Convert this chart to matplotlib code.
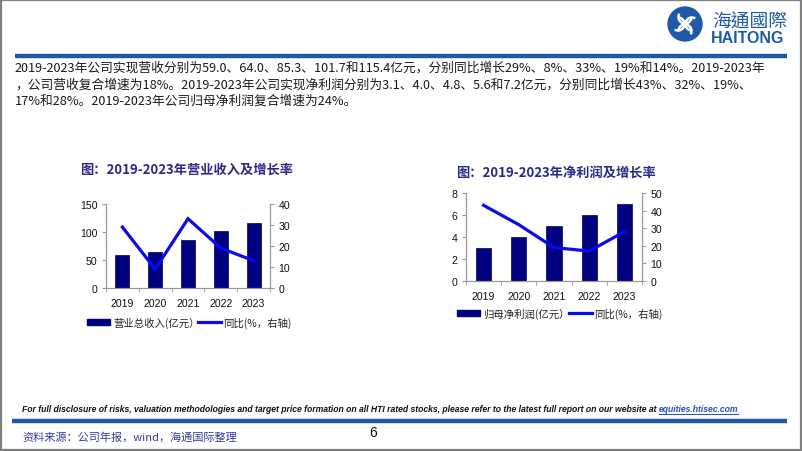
import matplotlib
matplotlib.use("Agg")
import matplotlib.pyplot as plt
from matplotlib.patches import Rectangle, Circle, Arc
from matplotlib.lines import Line2D
import numpy as np

plt.rcParams['font.family'] = ['Noto Sans CJK SC', 'DejaVu Sans']

# ---------------- data ----------------
years = ['2019', '2020', '2021', '2022', '2023']
revenue = [59.0, 64.0, 85.3, 101.7, 115.4]          # 营业总收入(亿元)
revenue_yoy = [29, 9, 33, 19, 13]                   # 同比(%)
profit = [3.0, 4.0, 5.0, 6.0, 7.0]                  # 归母净利润(亿元)
profit_yoy = [43, 32, 19, 17, 28]                   # 同比(%)

para_lines = [
    "2019-2023年公司实现营收分别为59.0、64.0、85.3、101.7和115.4亿元，分别同比增长29%、8%、33%、19%和14%。2019-2023年",
    "，公司营收复合增速为18%。2019-2023年公司实现净利润分别为3.1、4.0、4.8、5.6和7.2亿元，分别同比增长43%、32%、19%、",
    "17%和28%。2019-2023年公司归母净利润复合增速为24%。",
]
title_left = "图：2019-2023年营业收入及增长率"
title_right = "图：2019-2023年净利润及增长率"
leg_left = ["营业总收入(亿元）", "同比(%，右轴)"]
leg_right = ["归母净利润(亿元）", "同比(%，右轴)"]
footer = "For full disclosure of risks, valuation methodologies and target price formation on all HTI rated stocks, please refer to the latest full report on our website at "
footer_link = "equities.htisec.com"
source = "资料来源：公司年报，wind，海通国际整理"

W, H = 802, 452
fig = plt.figure(figsize=(W / 100, H / 100), dpi=100)
fig.patch.set_facecolor('white')

# overlay axes in pixel coordinates
ov = fig.add_axes([0, 0, 1, 1])
ov.set_xlim(0, W)
ov.set_ylim(H, 0)
ov.axis('off')
ov.set_zorder(0)

NAVY = '#000080'
LINE_BLUE = '#0A0AF0'
HT_BLUE = '#1F5AA6'
TITLE_C = '#2A2A8A'

# frame
ov.add_patch(Rectangle((0.5, 0.5), W - 1.5, H - 1.5, fill=False, ec='#7f7f7f', lw=1.6))
# header & footer rules
ov.plot([15, 787], [57, 57], color=HT_BLUE, lw=3.2, solid_capstyle='butt')
ov.plot([12, 787], [422, 422], color=HT_BLUE, lw=3.2, solid_capstyle='butt')

# logo
cx, cy, r = 685, 25, 17
ov.add_patch(Circle((cx, cy), r, color=HT_BLUE, zorder=2))
for ang in [0, 90, 180, 270]:
    a = np.deg2rad(ang)
    ox, oy = cx + 7 * np.cos(a), cy + 7 * np.sin(a)
    ov.add_patch(Arc((ox, oy), 13, 13, angle=ang, theta1=90, theta2=300, color='white', lw=1.8, zorder=3))
ov.add_patch(Circle((cx, cy), 2.5, color='white', zorder=3))
ov.text(712, 22, "海通國際", family=['Noto Sans CJK TC', 'DejaVu Sans'], fontsize=13.5,
        color=HT_BLUE, ha='left', va='center', fontweight='medium')
ov.text(711, 38.5, "HAITONG", family=['Liberation Sans', 'DejaVu Sans'], fontsize=11.5,
        color=HT_BLUE, ha='left', va='center', fontweight='bold')

# paragraph
fig.canvas.draw()
renderer = fig.canvas.get_renderer()
ys = [68, 85, 101]
fs = 9
t0 = ov.text(15, ys[0], para_lines[0], fontsize=fs, color='#1a1a1a', ha='left', va='center')
bb = t0.get_window_extent(renderer)
fs = fs * (768 - 15) / bb.width
t0.set_fontsize(fs)
for y, s in zip(ys[1:], para_lines[1:]):
    ov.text(15, y, s, fontsize=fs, color='#1a1a1a', ha='left', va='center')

# chart titles
ov.text(80, 170, title_left, fontsize=9.5, fontweight='bold', color=TITLE_C, ha='left', va='center')
ov.text(456, 173, title_right, fontsize=9.5, fontweight='bold', color=TITLE_C, ha='left', va='center')

TICK_FONT = ['Liberation Sans', 'DejaVu Sans']


def make_chart(rect, bars, line, ylim_l, yt_l, ylim_r, yt_r):
    ax = fig.add_axes(rect)
    ax.set_zorder(2)
    ax.patch.set_alpha(0)
    x = np.arange(len(years))
    ax.bar(x, bars, width=0.43, color=NAVY, edgecolor='#000050', lw=0.5, zorder=2)
    ax.set_xlim(-0.5, len(years) - 0.5)
    ax.set_ylim(*ylim_l)
    ax.set_yticks(yt_l)
    ax.set_xticks(x)
    ax.set_xticklabels(years)
    ax.set_xticks(np.arange(-0.5, len(years), 1.0), minor=True)
    ax.tick_params(axis='x', which='major', length=0, pad=7)
    ax.tick_params(axis='x', which='minor', length=3, color='#999999', direction='out')
    ax.tick_params(axis='y', length=3, color='#999999', pad=3)
    for lab in ax.get_xticklabels() + ax.get_yticklabels():
        lab.set_family(TICK_FONT)
        lab.set_fontsize(7.6)
        lab.set_color('#111111')
    ax.spines['top'].set_visible(False)
    for s in ['left', 'bottom', 'right']:
        ax.spines[s].set_color('#999999')
        ax.spines[s].set_linewidth(0.8)
    ax2 = ax.twinx()
    ax2.plot(x, line, color=LINE_BLUE, lw=2.3, zorder=3, solid_joinstyle='miter')
    ax2.set_ylim(*ylim_r)
    ax2.set_yticks(yt_r)
    ax2.tick_params(axis='y', length=3, color='#999999', pad=3)
    for lab in ax2.get_yticklabels():
        lab.set_family(TICK_FONT)
        lab.set_fontsize(7.6)
        lab.set_color('#111111')
    ax2.spines['top'].set_visible(False)
    for s in ['left', 'bottom', 'right']:
        ax2.spines[s].set_color('#999999')
        ax2.spines[s].set_linewidth(0.8)
    return ax, ax2


make_chart([106 / W, 1 - 289 / H, 164 / W, 84 / H], revenue, revenue_yoy,
           (0, 150), [0, 50, 100, 150], (0, 40), [0, 10, 20, 30, 40])
make_chart([466 / W, 1 - 282 / H, 176 / W, 88 / H], profit, profit_yoy,
           (0, 8), [0, 2, 4, 6, 8], (0, 50), [0, 10, 20, 30, 40, 50])


def legend(px, py, labels, line_x):
    ov.add_patch(Rectangle((px, py - 3), 23, 6, color=NAVY))
    ov.text(px + 26, py, labels[0], fontsize=7.5, color='#222222', ha='left', va='center')
    ov.plot([line_x, line_x + 23], [py, py], color=LINE_BLUE, lw=2.3)
    ov.text(line_x + 25, py, labels[1], fontsize=7.5, color='#222222', ha='left', va='center')


legend(87, 323, leg_left, 198)
legend(457, 314, leg_right, 569)

# footer
ft = ov.text(22, 410, footer, family=['Liberation Sans', 'DejaVu Sans'], fontsize=7,
             fontweight='bold', fontstyle='italic', color='#111111', ha='left', va='center')
fig.canvas.draw()
fb = ft.get_window_extent(renderer)
lt = ov.text(0, 410, footer_link, family=['Liberation Sans', 'DejaVu Sans'], fontsize=7,
             fontweight='bold', fontstyle='italic', color='#1F4FC0', ha='left', va='center')
lb = lt.get_window_extent(renderer)
total = fb.width + lb.width
scale = (748 - 22) / total
ft.set_fontsize(7 * scale)
lt.set_fontsize(7 * scale)
fig.canvas.draw()
fb = ft.get_window_extent(renderer)
lt.set_x(22 + fb.width)
lb = lt.get_window_extent(renderer)
ov.plot([22 + fb.width, 22 + fb.width + lb.width], [415, 415], color='#1F4FC0', lw=0.7)

ov.text(22, 437, source, fontsize=8, color='#3a3a9a', ha='left', va='center')
ov.text(373, 433, "6", family=['Liberation Sans', 'DejaVu Sans'], fontsize=10, color='#111111',
        ha='center', va='center')

fig.savefig('out.png', dpi=100)
